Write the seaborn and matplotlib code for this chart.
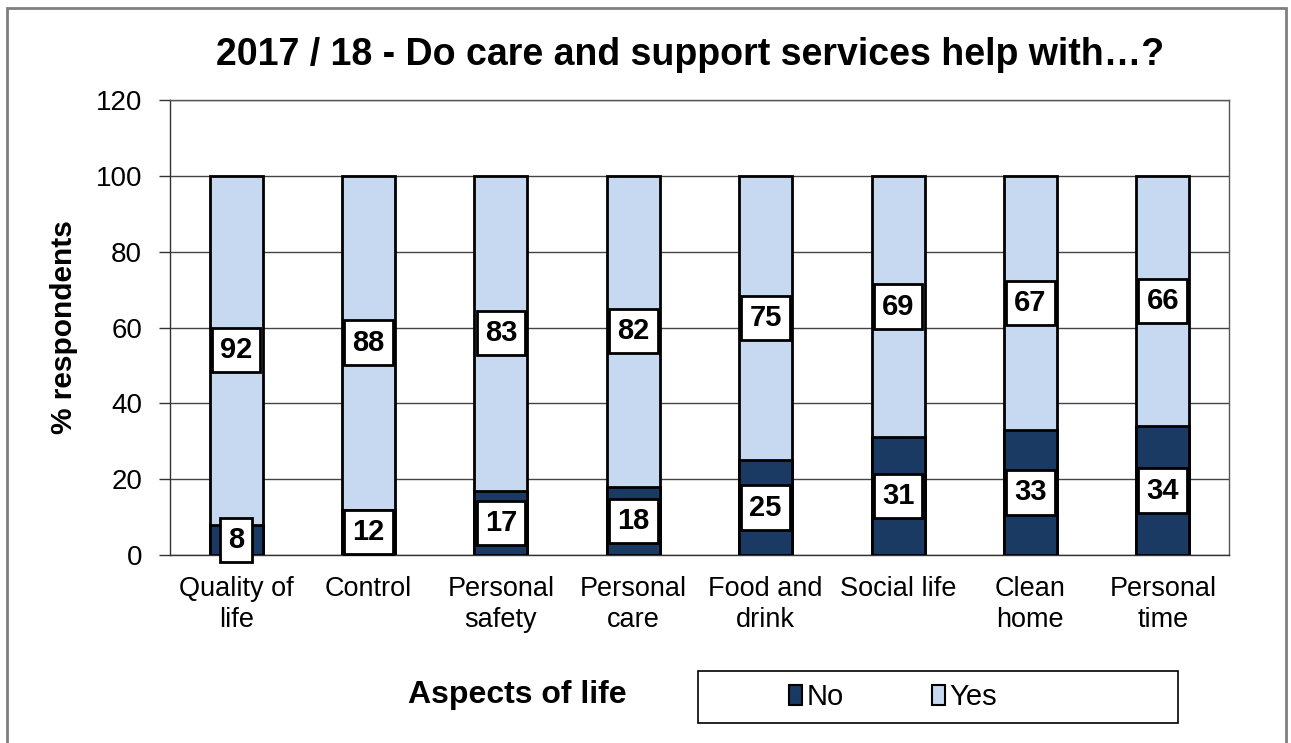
import matplotlib
matplotlib.use("Agg")
import matplotlib.pyplot as plt
import matplotlib.patches as mpatches
import numpy as np
import pandas as pd
import seaborn as sns

categories = ["Quality of\nlife", "Control", "Personal\nsafety", "Personal\ncare",
              "Food and\ndrink", "Social life", "Clean\nhome", "Personal\ntime"]
no_values = [8, 12, 17, 18, 25, 31, 33, 34]
yes_values = [92, 88, 83, 82, 75, 69, 67, 66]
y_ticks = [0, 20, 40, 60, 80, 100, 120]

NO_COLOR = "#1B3A63"
YES_COLOR = "#C6D9F0"

sns.set_theme(style="white")
plt.rcParams["font.family"] = ["Liberation Sans", "DejaVu Sans"]
plt.rcParams["text.color"] = "black"
plt.rcParams["axes.labelcolor"] = "black"
plt.rcParams["xtick.color"] = "black"
plt.rcParams["ytick.color"] = "black"

df = pd.DataFrame({"aspect": categories, "No": no_values, "Yes": yes_values})
df["top"] = df["No"] + df["Yes"]

W, H = 1291, 743
fig = plt.figure(figsize=(W / 100, H / 100), dpi=100)
ax = fig.add_axes([170 / W, 1 - 555 / H, (1229 - 170) / W, (555 - 100) / H])

# stacked bars: the Yes segment sits on top of the No segment
sns.barplot(data=df, x="aspect", y="top", color=YES_COLOR, width=0.4,
            edgecolor="black", linewidth=2, saturation=1, ax=ax, zorder=2)
sns.barplot(data=df, x="aspect", y="No", color=NO_COLOR, width=0.4,
            edgecolor="black", linewidth=2, saturation=1, ax=ax, zorder=3)

label_style = dict(ha="center", va="center", fontsize=21, fontweight="bold",
                   color="black", zorder=5,
                   bbox=dict(boxstyle="square,pad=0.28", fc="white", ec="black", lw=2))
for i, (n, y) in enumerate(zip(no_values, yes_values)):
    ax.text(i, n / 2, f"{n}", **label_style)
    ax.text(i, n + y / 2, f"{y}", **label_style)

ax.set_ylim(0, 120)
ax.set_xlim(-0.5, len(categories) - 0.5)
ax.set_yticks(y_ticks)
ax.set_yticklabels([str(t) for t in y_ticks], fontsize=20)
ax.set_xticks(range(len(categories)))
ax.set_xticklabels(categories, fontsize=19.5, linespacing=1.25)
ax.set_xticks(np.arange(-0.5, len(categories), 1.0), minor=True)
ax.tick_params(axis="x", which="major", length=0, pad=15, labelcolor="black")
ax.tick_params(axis="x", which="minor", length=8, width=1, color="#333333", direction="out")
ax.tick_params(axis="y", length=8, width=1, color="#333333", direction="out", pad=12,
               left=True, labelcolor="black")
ax.set_xlabel("")
ax.set_ylabel("% respondents", fontsize=21.5, fontweight="bold", labelpad=13, color="black")

ax.yaxis.grid(True, color="#444444", linewidth=1, zorder=0)
ax.set_axisbelow(True)
for side in ["top", "right"]:
    ax.spines[side].set_color("#555555")
    ax.spines[side].set_linewidth(1)
for side in ["left", "bottom"]:
    ax.spines[side].set_color("#333333")
    ax.spines[side].set_linewidth(1)

fig.text(690 / W, 1 - 55 / H, "2017 / 18 - Do care and support services help with…?",
         ha="center", va="center", fontsize=27, fontweight="bold", color="black")
fig.text(517 / W, 1 - 695 / H, "Aspects of life", ha="center", va="center",
         fontsize=23, fontweight="bold", color="black")

# legend frame and entries
fig.patches.append(mpatches.Rectangle((698 / W, 1 - 723 / H), (1178 - 698) / W, 52 / H,
                                      transform=fig.transFigure, fill=False,
                                      ec="black", lw=1.2))
handles = [mpatches.Patch(fc=NO_COLOR, ec="black", lw=1.5, label="No"),
           mpatches.Patch(fc=YES_COLOR, ec="black", lw=1.5, label="Yes")]
fig.legend(handles=handles, loc="center", bbox_to_anchor=(893 / W, 1 - 697 / H),
           ncol=2, frameon=False, fontsize=21, handlelength=0.45, handleheight=0.7,
           handletextpad=0.15, columnspacing=3.0, labelcolor="black")

# outer chart border
fig.patches.append(mpatches.Rectangle((7 / W, -0.05), (1286 - 7) / W, 1.05 - 8 / H,
                                      transform=fig.transFigure, fill=False,
                                      ec="#7F7F7F", lw=2))

fig.savefig("out.png", dpi=100)
